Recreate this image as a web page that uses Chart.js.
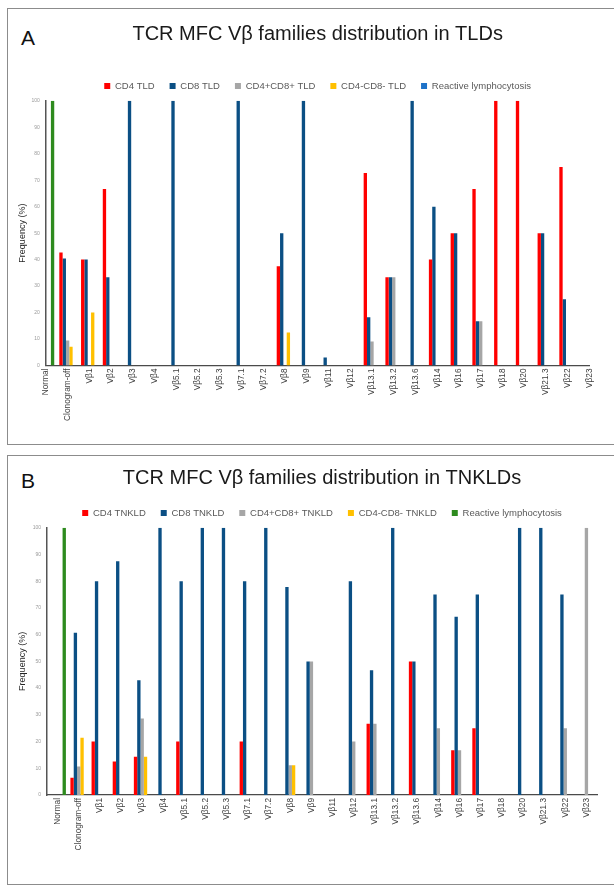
<!DOCTYPE html>
<html>
<head>
<meta charset="utf-8">
<script src="https://cdn.jsdelivr.net/npm/chart.js@4.4.1/dist/chart.umd.min.js"></script>
<style>
  html, body { margin: 0; padding: 0; background: #fff; }
  body { width: 614px; height: 890px; overflow: hidden; position: relative; font-family: 'Liberation Sans', Arial, Helvetica, sans-serif; }
  .box { position: absolute; left: 7px; width: 640px; border: 1.5px solid #8c8c8c; border-right: none; box-sizing: border-box; pointer-events: none; }
  .letter { position: absolute; left: 21px; font-size: 21px; line-height: 21px; color: #111; }
  canvas { position: absolute; left: 0; }
</style>
</head>
<body>
<div class="box" style="top:8px; height:437px;"></div>
<div class="box" style="top:455px; height:430px;"></div>
<div class="letter" style="top:27px;">A</div>
<div class="letter" style="top:470px;">B</div>
<canvas id="chartA" width="614" height="444" style="top:0px; width:614px; height:444px;"></canvas>
<canvas id="chartB" width="614" height="444" style="top:446px; width:614px; height:444px;"></canvas>
<script>
// ---------- data ----------
const categories = ['Normal','Clonogram-off','Vβ1','Vβ2','Vβ3','Vβ4','Vβ5.1','Vβ5.2','Vβ5.3','Vβ7.1','Vβ7.2','Vβ8','Vβ9','Vβ11','Vβ12','Vβ13.1','Vβ13.2','Vβ13.6','Vβ14','Vβ16','Vβ17','Vβ18','Vβ20','Vβ21.3','Vβ22','Vβ23'];

// Panel A: TLDs
const seriesNamesA = ['CD4 TLD','CD8 TLD','CD4+CD8+ TLD','CD4-CD8- TLD','Reactive lymphocytosis'];
const cd4TLD     = [0, 42.7, 40, 66.7, 0, 0, 0, 0, 0, 0, 0, 37.5, 0, 0, 0, 72.7, 33.3, 0, 40, 50, 66.7, 100, 100, 50, 75, 0];
const cd8TLD     = [0, 40.4, 40, 33.3, 100, 0, 100, 0, 0, 100, 0, 50, 100, 3, 0, 18.2, 33.3, 100, 60, 50, 16.7, 0, 0, 50, 25, 0];
const dpTLD      = [0, 9.4, 0, 0, 0, 0, 0, 0, 0, 0, 0, 0, 0, 0, 0, 9.1, 33.3, 0, 0, 0, 16.7, 0, 0, 0, 0, 0];
const dnTLD      = [0, 7.1, 20, 0, 0, 0, 0, 0, 0, 0, 0, 12.5, 0, 0, 0, 0, 0, 0, 0, 0, 0, 0, 0, 0, 0, 0];
const reactiveA  = [100, 0, 0, 0, 0, 0, 0, 0, 0, 0, 0, 0, 0, 0, 0, 0, 0, 0, 0, 0, 0, 0, 0, 0, 0, 0];

// Panel B: TNKLDs
const seriesNamesB = ['CD4 TNKLD','CD8 TNKLD','CD4+CD8+ TNKLD','CD4-CD8- TNKLD','Reactive lymphocytosis'];
const cd4TNKLD   = [0, 6.5, 20, 12.5, 14.3, 0, 20, 0, 0, 20, 0, 0, 0, 0, 0, 26.7, 0, 50, 0, 16.7, 25, 0, 0, 0, 0, 0];
const cd8TNKLD   = [0, 60.7, 80, 87.5, 42.9, 100, 80, 100, 100, 80, 100, 77.8, 50, 0, 80, 46.7, 100, 50, 75, 66.7, 75, 0, 100, 100, 75, 0];
const dpTNKLD    = [0, 10.7, 0, 0, 28.6, 0, 0, 0, 0, 0, 0, 11.1, 50, 0, 20, 26.7, 0, 0, 25, 16.7, 0, 0, 0, 0, 25, 100];
const dnTNKLD    = [0, 21.4, 0, 0, 14.3, 0, 0, 0, 0, 0, 0, 11.1, 0, 0, 0, 0, 0, 0, 0, 0, 0, 0, 0, 0, 0, 0];
const reactiveB  = [100, 0, 0, 0, 0, 0, 0, 0, 0, 0, 0, 0, 0, 0, 0, 0, 0, 0, 0, 0, 0, 0, 0, 0, 0, 0];

// ---------- styles ----------
const FONT = "'Liberation Sans', Arial, Helvetica, sans-serif";
const barColors = ['#ff0000', '#0b4f84', '#a6a6a6', '#ffc000', '#2e8b1e'];
const legendColorsA = ['#ff0000', '#0b4f84', '#a6a6a6', '#ffc000', '#1f73c9'];
const legendColorsB = ['#ff0000', '#0b4f84', '#a6a6a6', '#ffc000', '#2e8b1e'];

function buildConfig(opts) {
  const datasets = opts.series.map((vals, i) => ({
    label: opts.names[i],
    data: vals,
    backgroundColor: barColors[i],
    borderWidth: 0,
    barPercentage: 1.0,
    categoryPercentage: opts.catPct
  }));
  return {
    type: 'bar',
    data: { labels: categories, datasets },
    options: {
      responsive: false,
      animation: false,
      devicePixelRatio: 1,
      layout: { padding: { left: 10, right: opts.padRight, top: 0, bottom: 0 } },
      plugins: {
        tooltip: { enabled: false },
        title: {
          display: true,
          text: opts.title,
          fullSize: false,
          color: '#1a1a1a',
          font: { family: FONT, size: 20, weight: 'normal' },
          padding: { top: opts.titlePadTop, bottom: opts.titlePadBottom }
        },
        legend: {
          display: true,
          position: 'top',
          fullSize: false,
          labels: {
            boxWidth: 6,
            boxHeight: 6,
            padding: 15,
            color: '#595959',
            font: { family: FONT, size: 9.5 },
            generateLabels: (chart) => {
              const items = Chart.defaults.plugins.legend.labels.generateLabels(chart);
              items.forEach((it, i) => {
                it.fillStyle = opts.legendColors[i];
                it.strokeStyle = opts.legendColors[i];
                it.lineWidth = 0;
              });
              return items;
            }
          }
        }
      },
      scales: {
        x: {
          type: 'category',
          offset: opts.offset,
          grid: { display: false, drawTicks: false, offset: opts.offset },
          border: { display: true, color: '#4a4a4a', width: 1.2 },
          ticks: {
            autoSkip: false,
            maxRotation: 90,
            minRotation: 90,
            padding: 3,
            color: '#404040',
            font: { family: FONT, size: 8.3 }
          },
          afterFit: (scale) => { scale.height = opts.xHeight; }
        },
        y: {
          min: 0,
          max: 100,
          grid: { display: false, drawTicks: false },
          border: { display: true, color: '#555555', width: 1.5 },
          ticks: {
            stepSize: 10,
            padding: 6,
            color: '#9a9a9a',
            font: { family: FONT, size: 5 }
          },
          title: {
            display: true,
            text: 'Frequency (%)',
            color: '#262626',
            font: { family: FONT, size: 9 },
            padding: { top: 7.6, bottom: 0 }
          },
          afterFit: (scale) => { scale.width = opts.yWidth; }
        }
      }
    }
  };
}

new Chart(document.getElementById('chartA'), buildConfig({
  names: seriesNamesA,
  series: [cd4TLD, cd8TLD, dpTLD, dnTLD, reactiveA],
  legendColors: legendColorsA,
  title: 'TCR MFC Vβ families distribution in TLDs',
  titlePadTop: 22,
  titlePadBottom: 20.25,
  catPct: 0.767,
  offset: false,
  padRight: 24.6,
  yWidth: 35.9,
  xHeight: 78.5
}));

new Chart(document.getElementById('chartB'), buildConfig({
  names: seriesNamesB,
  series: [cd4TNKLD, cd8TNKLD, dpTNKLD, dnTNKLD, reactiveB],
  legendColors: legendColorsB,
  title: 'TCR MFC Vβ families distribution in TNKLDs',
  titlePadTop: 20,
  titlePadBottom: 3.25,
  catPct: 0.788,
  offset: true,
  padRight: 17,
  yWidth: 37,
  xHeight: 95
}));
</script>
</body>
</html>
